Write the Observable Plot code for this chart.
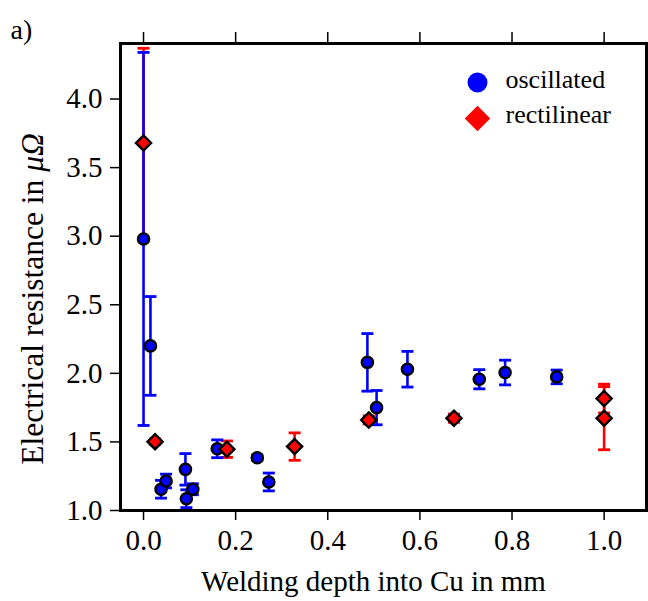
<!DOCTYPE html>
<html>
<head>
<meta charset="utf-8">
<script src="https://cdn.jsdelivr.net/npm/d3@7"></script>
<script src="https://cdn.jsdelivr.net/npm/@observablehq/plot@0.6"></script>
<style>
  html, body { margin: 0; padding: 0; background: #fff; }
  svg { display: block; }
</style>
</head>
<body>
<div id="chart"></div>
<script>
// oscillated (blue circles)
const oscX   = [0.000, 0.015, 0.038, 0.049, 0.091, 0.093, 0.107, 0.160, 0.247, 0.272, 0.486, 0.506, 0.573, 0.729, 0.785, 0.897];
const oscY   = [2.98, 2.20, 1.155, 1.215, 1.30, 1.086, 1.155, 1.45, 1.385, 1.208, 2.08, 1.75, 2.03, 1.957, 2.006, 1.974];
const oscErr = [1.36, 0.36, 0.065, 0.05, 0.115, 0.065, 0.04, 0.065, 0.02, 0.065, 0.21, 0.125, 0.13, 0.07, 0.09, 0.05];
// rectilinear (red diamonds)
const rectX   = [0.000, 0.025, 0.181, 0.328, 0.489, 0.674, 1.000, 1.000];
const rectY   = [3.68, 1.502, 1.447, 1.466, 1.66, 1.673, 1.816, 1.673];
const rectErr = [0.69, 0.02, 0.06, 0.10, 0.03, 0.03, 0.105, 0.23];

const xTicks = [0.0, 0.2, 0.4, 0.6, 0.8, 1.0];
const yTicks = [1.0, 1.5, 2.0, 2.5, 3.0, 3.5, 4.0];
const seriesNames = ["oscillated", "rectilinear"];

const toRows = (xs, ys, es) => xs.map((x, i) => ({x, y: ys[i], lo: ys[i] - es[i], hi: ys[i] + es[i]}));
const osc = toRows(oscX, oscY, oscErr);
const rect = toRows(rectX, rectY, rectErr);

const capSymbol = {
  draw(ctx, size) {
    const w = Math.sqrt(size / Math.PI);
    ctx.moveTo(-w, 0);
    ctx.lineTo(w, 0);
  }
};

const BLUE = "#0000ff", RED = "#ff0000";
const fmt = d3.format(".1f");
const FONT = "Liberation Serif";

const errMarks = (rows, color) => [
  Plot.ruleX(rows, {x: "x", y1: "lo", y2: "hi", stroke: color, strokeWidth: 2.6}),
  Plot.dot(rows, {x: "x", y: "lo", symbol: capSymbol, r: 6, stroke: color, strokeWidth: 2.8, fill: "none"}),
  Plot.dot(rows, {x: "x", y: "hi", symbol: capSymbol, r: 6, stroke: color, strokeWidth: 2.8, fill: "none"})
];

const chart = Plot.plot({
  width: 648,
  height: 601,
  marginLeft: 120,
  marginRight: 2,
  marginTop: 43,
  marginBottom: 91,
  style: {background: "#fff", color: "#000", overflow: "visible"},
  x: {domain: [-0.05, 1.092]},
  y: {domain: [1.0, 4.405]},
  marks: [
    ...errMarks(rect, RED),
    ...errMarks(osc, BLUE),
    Plot.dot(osc, {x: "x", y: "y", r: 5.6, fill: BLUE, stroke: "#000", strokeWidth: 2.4}),
    Plot.dot(rect, {x: "x", y: "y", symbol: "diamond2", r: 6.8, fill: RED, stroke: "#000", strokeWidth: 2.4}),
    Plot.frame({stroke: "#000", strokeWidth: 3}),
    Plot.axisX(xTicks, {anchor: "bottom", tickSize: 10, tickPadding: 9, tickFormat: fmt, fontSize: 29, strokeWidth: 1.5, label: null}),
    Plot.axisX(xTicks, {anchor: "top", tickSize: 12, fill: "none", strokeWidth: 1.5, label: null}),
    Plot.axisY(yTicks, {anchor: "left", tickSize: 10, tickPadding: 8, tickFormat: fmt, fontSize: 29, strokeWidth: 1.5, label: null}),
    Plot.axisY(yTicks, {anchor: "right", tickSize: 10, fill: "none", strokeWidth: 1.5, label: null}),
    // axis titles
    Plot.text(["Welding depth into Cu in mm"], {frameAnchor: "bottom", text: d => d, dy: 80, dx: -10, lineAnchor: "bottom", fontSize: 29, fontFamily: FONT}),
    Plot.text(["Electrical resistance in "], {frameAnchor: "left", text: d => d, dx: -88, dy: 22, rotate: -90, lineAnchor: "middle", textAnchor: "middle", fontSize: 31.5, fontFamily: FONT}),
    // legend
    Plot.dot([seriesNames[0]], {frameAnchor: "top-right", dx: -169, dy: 39, r: 10, fill: BLUE}),
    Plot.dot([seriesNames[1]], {frameAnchor: "top-right", dx: -169, dy: 75, r: 11.5, symbol: "diamond2", fill: RED}),
    Plot.text([seriesNames[0]], {frameAnchor: "top-right", text: d => d, dx: -141, dy: 44, textAnchor: "start", lineAnchor: "bottom", fontSize: 26, fontFamily: FONT}),
    Plot.text([seriesNames[1]], {frameAnchor: "top-right", text: d => d, dx: -141, dy: 79, textAnchor: "start", lineAnchor: "bottom", fontSize: 26, fontFamily: FONT}),
    // panel label
    Plot.text(["a)"], {frameAnchor: "top-left", text: d => d, dx: -110, dy: -5, textAnchor: "start", lineAnchor: "bottom", fontSize: 28, fontFamily: FONT})
  ]
});

const svg = d3.select(chart);
// append italic μΩ to the y title as real text
svg.selectAll("text").filter(function() { return this.textContent === "Electrical resistance in "; })
  .each(function() {
    const t = d3.select(this);
    const txt = t.text();
    t.text(null);
    t.append("tspan").text(txt);
    t.append("tspan").attr("font-style", "italic").text("μΩ");
  });
// serif face on every text element
svg.attr("font-family", FONT);
svg.selectAll("g, text, tspan").each(function() {
  this.setAttribute("font-family", FONT);
  this.style.setProperty("font-family", "'Liberation Serif', serif", "important");
});

document.getElementById("chart").appendChild(chart);
</script>
</body>
</html>
